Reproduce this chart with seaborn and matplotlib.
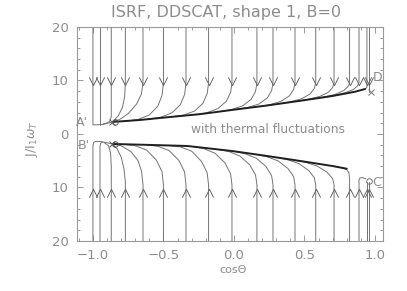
import matplotlib
matplotlib.use("Agg")
import pandas as pd
import matplotlib.pyplot as plt
import seaborn as sns
from matplotlib.path import Path
from matplotlib.ticker import MultipleLocator

# ---- Daten ----
# Startpositionen (cos Theta) der Trajektorien
start_cos = [-1.0, -0.95, -0.87, -0.77, -0.645, -0.50, -0.34, -0.18, -0.014,
             0.163, 0.277, 0.433, 0.58, 0.71, 0.82, 0.887, 0.943, 0.96]

# obere Trajektorien (J > 0), Punkte (cos, J)
upper_paths = [
    [(-1.0, 20), (-1.0, 1.7), (-0.93, 1.75), (-0.86, 2.25)],
    [(-0.95, 20), (-0.95, 1.75)],
    [(-0.87, 20), (-0.87, 3.2), (-0.88, 2.4), (-0.90, 2.05), (-0.93, 1.85)],
    [(-0.77, 20), (-0.77, 9.5), (-0.775, 7.0), (-0.79, 5.0), (-0.82, 3.4), (-0.86, 2.3)],
    [(-0.645, 20), (-0.645, 9.5), (-0.657, 7.4), (-0.69, 5.6), (-0.75, 3.8), (-0.81, 2.7), (-0.86, 2.3)],
    [(-0.50, 20), (-0.50, 9.5), (-0.51, 7.2), (-0.54, 5.2), (-0.60, 3.55), (-0.68, 2.7), (-0.76, 2.42)],
    [(-0.34, 20), (-0.34, 9.5), (-0.35, 7.38), (-0.38, 5.47), (-0.44, 3.93), (-0.52, 3.12), (-0.60, 2.78)],
    [(-0.18, 20), (-0.18, 9.5), (-0.19, 7.54), (-0.22, 5.73), (-0.28, 4.27), (-0.36, 3.51), (-0.44, 3.2)],
    [(-0.014, 20), (-0.014, 9.5), (-0.024, 7.75), (-0.054, 6.10), (-0.114, 4.74), (-0.194, 3.96), (-0.274, 3.61)],
    [(0.163, 20), (0.163, 9.5), (0.153, 7.95), (0.123, 6.49), (0.063, 5.27), (-0.017, 4.56), (-0.097, 4.2)],
    [(0.277, 20), (0.277, 9.5), (0.267, 8.09), (0.237, 6.74), (0.177, 5.6), (0.097, 4.94), (0.017, 4.59)],
    [(0.433, 20), (0.433, 9.5), (0.423, 8.3), (0.393, 7.11), (0.333, 6.1), (0.253, 5.46), (0.173, 5.1)],
    [(0.58, 20), (0.58, 9.5), (0.57, 8.5), (0.54, 7.47), (0.48, 6.58), (0.40, 6.0), (0.32, 5.64)],
    [(0.71, 20), (0.71, 9.5), (0.70, 8.68), (0.67, 7.8), (0.61, 7.03), (0.53, 6.48), (0.45, 6.13)],
    [(0.82, 20), (0.82, 9.5), (0.81, 8.87), (0.78, 8.13), (0.72, 7.42), (0.64, 6.91), (0.56, 6.55)],
    [(0.887, 20), (0.887, 9.6), (0.877, 9.0), (0.847, 8.3), (0.787, 7.7), (0.707, 7.16), (0.627, 6.82)],
    [(0.943, 20), (0.943, 8.7), (0.93, 8.4)],
    [(0.96, 20), (0.96, 7.8)],
]

# untere Trajektorien (J < 0)
lower_paths = [
    [(-1.0, -20), (-1.0, -2.2), (-0.995, -1.6), (-0.98, -1.4), (-0.95, -1.4), (-0.86, -1.87)],
    [(-0.95, -20), (-0.95, -2.3), (-0.945, -1.7), (-0.93, -1.5)],
    [(-0.87, -20), (-0.87, -6.0), (-0.875, -3.5), (-0.89, -2.2), (-0.92, -1.6)],
    [(-0.77, -20), (-0.77, -9.0), (-0.78, -6.5), (-0.80, -4.3), (-0.83, -2.7), (-0.86, -1.95)],
    [(-0.645, -20), (-0.645, -9.5), (-0.655, -7.0), (-0.68, -5.0), (-0.73, -3.3), (-0.80, -2.2), (-0.86, -1.9)],
    [(-0.50, -20), (-0.50, -9.5), (-0.51, -7.06), (-0.55, -4.89), (-0.62, -3.0), (-0.70, -2.2), (-0.78, -1.93)],
    [(-0.34, -20), (-0.34, -9.5), (-0.35, -7.1), (-0.39, -4.97), (-0.46, -3.09), (-0.54, -2.31), (-0.62, -2.04)],
    [(-0.18, -20), (-0.18, -9.5), (-0.19, -7.26), (-0.23, -5.13), (-0.30, -3.22), (-0.38, -2.41), (-0.46, -2.15)],
    [(-0.014, -20), (-0.014, -9.5), (-0.024, -7.42), (-0.064, -5.4), (-0.134, -3.61), (-0.214, -2.74), (-0.294, -2.35)],
    [(0.163, -20), (0.163, -9.5), (0.153, -7.64), (0.113, -5.81), (0.043, -4.13), (-0.037, -3.27), (-0.117, -2.87)],
    [(0.277, -20), (0.277, -9.5), (0.267, -7.78), (0.227, -6.07), (0.157, -4.51), (0.077, -3.69), (-0.003, -3.23)],
    [(0.433, -20), (0.433, -9.5), (0.423, -7.98), (0.383, -6.46), (0.313, -5.03), (0.233, -4.25), (0.153, -3.8)],
    [(0.58, -20), (0.58, -9.5), (0.57, -8.18), (0.53, -6.82), (0.46, -5.53), (0.38, -4.81), (0.30, -4.38)],
    [(0.71, -20), (0.71, -9.5), (0.70, -8.36), (0.66, -7.14), (0.59, -6.0), (0.51, -5.32), (0.43, -4.89)],
    [(0.82, -20), (0.82, -8.3), (0.815, -7.2), (0.80, -6.7), (0.77, -6.35), (0.70, -6.0)],
    [(0.887, -20), (0.887, -8.6), (0.893, -8.25), (0.91, -8.15), (0.935, -8.4)],
    [(0.943, -20), (0.943, -9.0)],
    [(0.96, -20), (0.96, -8.9)],
]

# Attraktor-Linien (dick)
upper_line_cos = [-0.86, -0.67, -0.48, -0.24, -0.01, 0.23, 0.47, 0.70, 0.86, 0.93]
upper_line_J = [2.25, 2.6, 3.1, 3.7, 4.5, 5.3, 6.2, 7.1, 7.9, 8.4]
lower_line_cos = [-0.86, -0.60, -0.33, -0.01, 0.23, 0.47, 0.70, 0.80]
lower_line_J = [-1.87, -2.05, -2.25, -3.2, -4.1, -5.05, -6.0, -6.5]

arrow_J_up = 9.9
arrow_J_down = -11.0

yticks = [-20, -10, 0, 10, 20]
ytick_labels = ["20", "10", "0", "10", "20"]

# ---- Plot ----
sns.set_style("ticks")
plt.rcParams["font.family"] = ["DejaVu Sans"]
txt = "0.55"
frame = "0.6"

fig = plt.figure(figsize=(4.07, 2.91), dpi=100)
ax = fig.add_axes([0.1885, 0.172, 0.7518, 0.7354])

rows = []
for i, p in enumerate(upper_paths + lower_paths):
    for c, j in p:
        rows.append((i, c, j))
traj_df = pd.DataFrame(rows, columns=["traj", "cos", "J"])
sns.lineplot(data=traj_df, x="cos", y="J", units="traj", estimator=None,
             sort=False, color="0.45", lw=0.7, ax=ax, legend=False)

line_df = pd.DataFrame({
    "cos": upper_line_cos + lower_line_cos,
    "J": upper_line_J + lower_line_J,
    "branch": ["up"] * len(upper_line_cos) + ["down"] * len(lower_line_cos),
})
sns.lineplot(data=line_df, x="cos", y="J", units="branch", estimator=None,
             sort=False, color="0.12", lw=1.4, ax=ax, legend=False)

# Pfeile
v_down = Path([(-1, 1), (0, -1), (1, 1)], [Path.MOVETO, Path.LINETO, Path.LINETO])
v_up = Path([(-1, -1), (0, 1), (1, -1)], [Path.MOVETO, Path.LINETO, Path.LINETO])
ax.plot(start_cos, [arrow_J_up] * len(start_cos), ls="none", marker=v_down,
        ms=6, mfc="none", mec="0.4", mew=0.7)
ax.plot(start_cos, [arrow_J_down] * len(start_cos), ls="none", marker=v_up,
        ms=6, mfc="none", mec="0.4", mew=0.7)

# Markierungen
ax.plot([-0.865, -0.865], [2.2, -1.87], ls="none", marker="x", ms=4, mec="0.35", mew=0.7)
ax.plot([-0.84, -0.84], [2.2, -1.87], ls="none", marker="o", ms=4, mfc="none", mec="0.35", mew=0.7)
ax.plot([0.97], [7.8], ls="none", marker="x", ms=4, mec="0.45", mew=0.7)
ax.plot([0.955], [-8.8], ls="none", marker="o", ms=4, mfc="none", mec="0.45", mew=0.7)

ax.text(-1.075, 2.2, "A'", color=txt, fontsize=9, ha="center", va="center")
ax.text(-1.065, -2.2, "B'", color=txt, fontsize=9, ha="center", va="center")
ax.text(1.02, 10.6, "D", color=txt, fontsize=9, ha="center", va="center")
ax.text(1.01, -9.1, "C", color=txt, fontsize=9, ha="center", va="center")
ax.text(0.24, 0.75, "with thermal fluctuations", color=txt, fontsize=8.8,
        ha="center", va="center")

ax.set_xlim(-1.115, 1.055)
ax.set_ylim(-20, 20)
ax.set_yticks(yticks)
ax.set_yticklabels(ytick_labels)
ax.xaxis.set_major_locator(MultipleLocator(0.5))
ax.xaxis.set_minor_locator(MultipleLocator(0.1))
ax.yaxis.set_minor_locator(MultipleLocator(2))
ax.xaxis.set_major_formatter(plt.FuncFormatter(lambda v, p: f"{v:.1f}".replace("-", "\u2212")))
ax.tick_params(which="both", direction="in", top=True, right=True, color=frame,
               labelcolor=txt, labelsize=9.5, width=0.7)
ax.tick_params(which="major", length=4, pad=6)
ax.tick_params(which="minor", length=2)
for s in ax.spines.values():
    s.set_color(frame)
    s.set_linewidth(0.8)
ax.set_xlabel("")
ax.set_ylabel("")

fig.text(0.555, 0.957, "ISRF, DDSCAT, shape 1, B=0", color=txt, fontsize=11.5,
         ha="center", va="center")
fig.text(0.573, 0.072, "cos\u0398", color=txt, fontsize=8, ha="center", va="center")
fig.text(0.079, 0.525, r"J/I$_1$$\omega_T$", color=txt, fontsize=9, rotation=90,
         ha="center", va="center")

fig.savefig("out.png", dpi=100)
